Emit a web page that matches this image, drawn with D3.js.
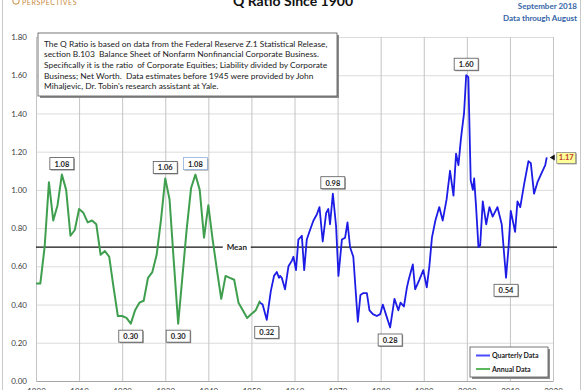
<!DOCTYPE html>
<html lang="en">
<head>
	<meta charset="UTF-8">
	<script src="https://d3js.org/d3.v7.min.js"></script>
	<style>
	body { margin: 0; background: #fff; }
	</style>
	<title>Q Ratio Since 1900</title>
</head>
<body>
<div id="chart"></div>
<script>
// Annual data (green), 1900-1952
const annualYears = [1900, 1901, 1902, 1903, 1904, 1905, 1906, 1907, 1908, 1909,
	1910, 1911, 1912, 1913, 1914, 1915, 1916, 1917, 1918, 1919,
	1920, 1921, 1922, 1923, 1924, 1925, 1926, 1927, 1928, 1929,
	1930, 1931, 1932, 1933, 1934, 1935, 1936, 1937, 1938, 1939,
	1940, 1941, 1942, 1943, 1944, 1945, 1946, 1947, 1948, 1949,
	1950, 1951, 1952];
const annualValues = [0.51, 0.51, 0.70, 1.04, 0.84, 0.92, 1.08, 1.00, 0.76, 0.79,
	0.90, 0.88, 0.83, 0.84, 0.82, 0.66, 0.68, 0.65, 0.49, 0.34,
	0.34, 0.33, 0.30, 0.37, 0.41, 0.42, 0.54, 0.57, 0.66, 0.84,
	1.06, 0.95, 0.62, 0.30, 0.55, 0.80, 1.01, 1.08, 1.00, 0.75,
	0.92, 0.74, 0.58, 0.43, 0.55, 0.54, 0.53, 0.41, 0.37, 0.33,
	0.35, 0.37, 0.42];

// Quarterly data (blue)
const quarterlyDates = [1952.0, 1952.6, 1953.56, 1954.5, 1955.25, 1955.9, 1956.4, 1956.65, 1957.05, 1957.8,
	1958.6, 1959.4, 1959.75, 1960.35, 1960.9, 1961.7, 1962.25, 1962.85, 1963.6, 1964.4,
	1965.15, 1965.8, 1966.55, 1967.35, 1967.85, 1968.25, 1968.9, 1969.65, 1970.2, 1971.0,
	1971.75, 1972.3, 1972.9, 1973.65, 1974.7, 1975.3, 1976.0, 1976.8, 1977.4, 1978.2,
	1979.1, 1979.9, 1980.5, 1981.2, 1982.2, 1983.2, 1984.1, 1984.6, 1985.4, 1986.1,
	1986.5, 1987.46, 1988.0, 1989.0, 1989.9, 1990.7, 1991.3, 1991.9, 1992.7, 1993.6,
	1994.4, 1995.3, 1996.1, 1996.9, 1997.5, 1998.05, 1998.6, 1998.85, 1999.35, 1999.85,
	2000.35, 2000.9, 2001.4, 2001.7, 2002.15, 2002.7, 2003.1, 2003.7, 2004.5, 2005.25,
	2006.0, 2007.1, 2008.1, 2009.1, 2009.65, 2010.2, 2011.2, 2011.75, 2012.4, 2013.3,
	2014.3, 2014.85, 2015.6, 2016.4, 2017.4, 2018.2, 2018.55];
const quarterlyValues = [0.41, 0.40, 0.32, 0.47, 0.55, 0.57, 0.54, 0.55, 0.54, 0.48,
	0.60, 0.63, 0.65, 0.58, 0.74, 0.76, 0.58, 0.74, 0.79, 0.84,
	0.87, 0.91, 0.73, 0.88, 0.90, 0.82, 0.98, 0.81, 0.55, 0.74,
	0.75, 0.83, 0.70, 0.65, 0.31, 0.45, 0.46, 0.46, 0.37, 0.35,
	0.34, 0.35, 0.40, 0.35, 0.28, 0.43, 0.37, 0.41, 0.39, 0.49,
	0.53, 0.61, 0.48, 0.53, 0.58, 0.49, 0.60, 0.75, 0.84, 0.91,
	0.84, 0.95, 1.10, 0.97, 1.19, 1.13, 1.26, 1.31, 1.40, 1.60,
	1.59, 1.05, 1.00, 1.06, 0.91, 0.70, 0.71, 0.94, 0.82, 0.91,
	0.86, 0.91, 0.82, 0.54, 0.69, 0.89, 0.78, 0.94, 0.91, 1.03,
	1.15, 1.14, 0.98, 1.04, 1.09, 1.13, 1.17];

const meanValue = 0.70;

const yTicks = [0, 0.2, 0.4, 0.6, 0.8, 1.0, 1.2, 1.4, 1.6, 1.8];
const xTicks = [1900, 1910, 1920, 1930, 1940, 1950, 1960, 1970, 1980, 1990, 2000, 2010, 2020];

// Peak / trough callouts: which series and date, label above or below
const callouts = [
	{ series: "annual", date: 1906, side: "top" },
	{ series: "annual", date: 1922, side: "bottom" },
	{ series: "annual", date: 1930, side: "top" },
	{ series: "annual", date: 1933, side: "bottom" },
	{ series: "annual", date: 1937, side: "top" },
	{ series: "quarterly", date: 1953.56, side: "bottom" },
	{ series: "quarterly", date: 1968.9, side: "top" },
	{ series: "quarterly", date: 1982.2, side: "bottom" },
	{ series: "quarterly", date: 1999.85, side: "top" },
	{ series: "quarterly", date: 2009.1, side: "bottom" }
];

const noteLines = [
	"The Q Ratio is based on data from the Federal Reserve Z.1 Statistical Release,",
	"section B.103  Balance Sheet of Nonfarm Nonfinancial Corporate Business.",
	"Specifically it is the ratio  of Corporate Equities; Liability divided by Corporate",
	"Business; Net Worth.  Data estimates before 1945 were provided by John",
	"Mihaljevic, Dr. Tobin's research assistant at Yale."
];

const legendItems = [
	{ name: "Quarterly Data", color: "#4b4bff" },
	{ name: "Annual Data", color: "#5cb85c" }
];

const width = 585, height = 390;
const plot = { left: 36, right: 553, top: 37, bottom: 381 };
const font = "Lato, Carlito, 'Open Sans', sans-serif";

const svg = d3.select("#chart")
	.append("svg")
	.attr("width", width)
	.attr("height", height)
	.style("font-family", font);

const x = d3.scaleLinear([1900, 2020], [plot.left, plot.right]);
const y = d3.scaleLinear([0, 1.8], [plot.bottom, plot.top]);

// outer frame of the chart
svg.append("rect")
	.attr("x", 2.5).attr("y", -10)
	.attr("width", 578).attr("height", height + 20)
	.attr("fill", "none")
	.attr("stroke", "#c8c8c8");

// y axis with horizontal gridlines
const yAxis = svg.append("g")
	.attr("transform", "translate(" + plot.left + ",0)")
	.call(d3.axisLeft(y).tickValues(yTicks).tickFormat(d3.format(".2f"))
		.tickSize(-(plot.right - plot.left)).tickSizeOuter(0).tickPadding(9));
yAxis.select(".domain").remove();
yAxis.selectAll(".tick line").attr("stroke", "#dcdcdc");
yAxis.selectAll(".tick text")
	.attr("fill", "#404040")
	.style("font-family", font)
	.style("font-size", "8px");

// x axis with vertical gridlines
const xAxis = svg.append("g")
	.attr("transform", "translate(0," + plot.bottom + ")")
	.call(d3.axisBottom(x).tickValues(xTicks).tickFormat(d3.format("d"))
		.tickSize(-(plot.bottom - plot.top)).tickSizeOuter(0).tickPadding(7));
xAxis.select(".domain").attr("stroke", "#a6a6a6");
xAxis.selectAll(".tick line").attr("stroke", "#c4c4c4");
xAxis.selectAll(".tick text")
	.attr("fill", "#404040")
	.style("font-family", font)
	.style("font-size", "8px");

// Mean line
svg.append("line")
	.attr("x1", plot.left).attr("x2", plot.right + 4)
	.attr("y1", y(meanValue)).attr("y2", y(meanValue))
	.attr("stroke", "#111")
	.attr("stroke-width", 1.3);
svg.append("rect")
	.attr("x", x(1946.6) - 14).attr("y", y(meanValue) - 5)
	.attr("width", 28).attr("height", 10)
	.attr("fill", "#fff");
svg.append("text")
	.attr("x", x(1946.6)).attr("y", y(meanValue) + 3)
	.attr("text-anchor", "middle")
	.style("font-size", "8px")
	.style("font-weight", "bold")
	.attr("fill", "#222")
	.text("Mean");

// Data lines
const annual = annualYears.map((d, i) => ({ date: d, value: annualValues[i] }));
const quarterly = quarterlyDates.map((d, i) => ({ date: d, value: quarterlyValues[i] }));
const line = d3.line().x(d => x(d.date)).y(d => y(d.value));

svg.append("path")
	.datum(annual)
	.attr("d", line)
	.attr("fill", "none")
	.attr("stroke", "#3f9f4f")
	.attr("stroke-width", 2)
	.attr("stroke-linejoin", "round");

svg.append("path")
	.datum(quarterly)
	.attr("d", line)
	.attr("fill", "none")
	.attr("stroke", "#1c1ce6")
	.attr("stroke-width", 1.8)
	.attr("stroke-linejoin", "round");

// Callout boxes
const fmt = d3.format(".2f");
callouts.forEach(function(c, i) {
	const src = c.series == "annual" ? annual : quarterly;
	const pt = src.find(d => d.date == c.date);
	const cx = x(pt.date);
	const cy = y(pt.value) + (c.side == "top" ? -11 : 12.5);
	const g = svg.append("g");
	g.append("rect")
		.attr("x", cx - 11).attr("y", cy - 5)
		.attr("width", 24).attr("height", 12)
		.attr("fill", "#9a9a9a");
	g.append("rect")
		.attr("x", cx - 12).attr("y", cy - 6)
		.attr("width", 24).attr("height", 12)
		.attr("fill", "#fff")
		.attr("stroke", i == 4 ? "#8fb0dc" : "#555")
		.attr("stroke-width", 0.8);
	g.append("text")
		.attr("x", cx).attr("y", cy + 3)
		.attr("text-anchor", "middle")
		.style("font-size", "7.5px")
		.style("font-weight", "bold")
		.attr("fill", "#222")
		.text(fmt(pt.value));
});

// Last value marker (1.17)
const last = quarterly[quarterly.length - 1];
const lx = x(last.date), ly = y(last.value);
svg.append("path")
	.attr("d", "M" + (lx + 3) + "," + ly + "l5,-3v6z")
	.attr("fill", "#111");
svg.append("rect")
	.attr("x", lx + 11).attr("y", ly - 4)
	.attr("width", 19).attr("height", 11)
	.attr("fill", "#9a9a9a");
svg.append("rect")
	.attr("x", lx + 10).attr("y", ly - 5)
	.attr("width", 19).attr("height", 11)
	.attr("fill", "#ffff99")
	.attr("stroke", "#888")
	.attr("stroke-width", 0.8);
svg.append("text")
	.attr("x", lx + 19.5).attr("y", ly + 3)
	.attr("text-anchor", "middle")
	.style("font-size", "7.5px")
	.style("font-weight", "bold")
	.attr("fill", "#c0392b")
	.text(fmt(last.value));

// Note box
svg.append("rect")
	.attr("x", 40).attr("y", 35)
	.attr("width", 299).attr("height", 63)
	.attr("fill", "#8c8c8c");
svg.append("rect")
	.attr("x", 38).attr("y", 33)
	.attr("width", 299).attr("height", 63)
	.attr("fill", "#fff")
	.attr("stroke", "#555")
	.attr("stroke-width", 0.8);
svg.append("g")
	.selectAll("text")
	.data(noteLines)
	.join("text")
	.attr("x", 44)
	.attr("y", (d, i) => 46.5 + i * 10.7)
	.attr("fill", "#1a1a1a")
	.style("font-size", "8.4px")
	.style("white-space", "pre")
	.text(d => d);

// Legend
const legend = svg.append("g");
legend.append("rect")
	.attr("x", 472).attr("y", 349)
	.attr("width", 78).attr("height", 30)
	.attr("fill", "#8c8c8c");
legend.append("rect")
	.attr("x", 470).attr("y", 347)
	.attr("width", 78).attr("height", 30)
	.attr("fill", "#fff")
	.attr("stroke", "#555")
	.attr("stroke-width", 0.8);
legendItems.forEach(function(d, i) {
	const ly2 = 355.5 + i * 13.5;
	legend.append("line")
		.attr("x1", 476).attr("x2", 490)
		.attr("y1", ly2).attr("y2", ly2)
		.attr("stroke", d.color)
		.attr("stroke-width", 2);
	legend.append("text")
		.attr("x", 492).attr("y", ly2 + 2.6)
		.style("font-size", "7px")
		.style("font-weight", "bold")
		.attr("fill", "#222")
		.text(d.name);
});

// Header texts
svg.append("text")
	.attr("x", 293).attr("y", 6)
	.attr("text-anchor", "middle")
	.style("font-size", "14px")
	.style("font-weight", "bold")
	.attr("fill", "#111")
	.text("Q Ratio Since 1900");

svg.append("text")
	.attr("x", 577).attr("y", 9)
	.attr("text-anchor", "end")
	.style("font-size", "8px")
	.style("font-weight", "bold")
	.attr("fill", "#3465a8")
	.text("September 2018");
svg.append("text")
	.attr("x", 577).attr("y", 20.5)
	.attr("text-anchor", "end")
	.style("font-size", "8px")
	.style("font-weight", "bold")
	.attr("fill", "#3465a8")
	.text("Data through August");

// logo
svg.append("circle")
	.attr("cx", 16).attr("cy", 1)
	.attr("r", 3.2)
	.attr("fill", "none")
	.attr("stroke", "#c8893a")
	.attr("stroke-width", 1);
svg.append("text")
	.attr("x", 22).attr("y", 4.5)
	.style("font-size", "7px")
	.style("letter-spacing", "0.6px")
	.attr("fill", "#c8893a")
	.text("PERSPECTIVES");
</script>
</body>
</html>
